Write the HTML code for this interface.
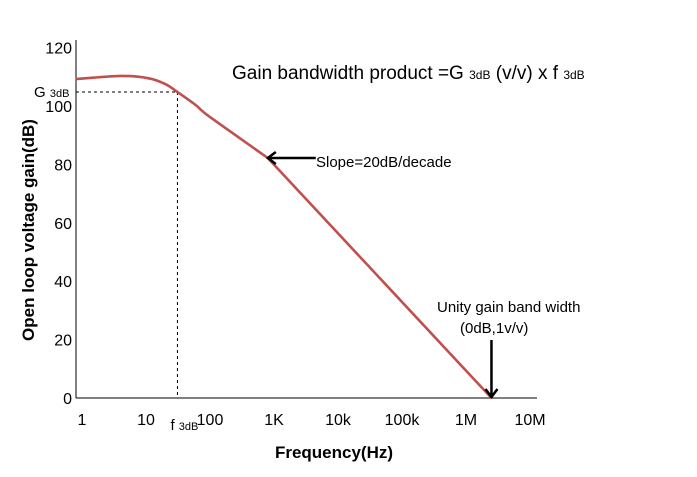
<!DOCTYPE html>
<html><head><meta charset="utf-8"><style>
html,body{margin:0;padding:0;background:#fff}
svg{display:block;font-family:"Liberation Sans",sans-serif}
</style></head><body>
<svg id="chart" width="697" height="477" viewBox="0 0 697 477">
<g id="axes"></g>
<g id="marks"></g>
<text x="232" y="79" font-size="19" fill="#000">Gain bandwidth product =G <tspan font-size="12">3dB</tspan> (v/v) x f <tspan font-size="12">3dB</tspan></text>
<text x="316" y="167" font-size="15" fill="#000">Slope=20dB/decade</text>
<text x="437" y="312" font-size="15" fill="#000">Unity gain band width</text>
<text x="460" y="333" font-size="15" fill="#000">(0dB,1v/v)</text>
<text transform="translate(34,230) rotate(-90)" text-anchor="middle" font-size="17" font-weight="bold" fill="#000">Open loop voltage gain(dB)</text>
<text x="334" y="458" text-anchor="middle" font-size="17" font-weight="bold" fill="#000">Frequency(Hz)</text>
</svg>
<script>
const yTicks = [0, 20, 40, 60, 80, 100, 120];
const xTickValues = [1, 10, 100, 1000, 1e4, 1e5, 1e6, 1e7];
const xTickLabels = ["1", "10", "100", "1K", "10k", "100k", "1M", "10M"];
const freqs = [0.8, 4, 11, 20, 31, 60, 100, 800, 2.5e6];
const gains = [109.2, 110.3, 109.5, 107.5, 104.8, 100.3, 96.2, 82.2, 0];
const f3dB = 31;
const g3dB = 104.8;
const unityFreq = 2.5e6;
const slopeFreq = 800;
const slopeGain = 82.2;

const NS = "http://www.w3.org/2000/svg";
const X0 = 76, Y0 = 398;
function xs(f){ return 82 + 64 * Math.log10(f); }
function ys(v){ return Y0 - v * 2.92; }
function mk(tag, attrs, parent){
  const e = document.createElementNS(NS, tag);
  for (const k in attrs) e.setAttribute(k, attrs[k]);
  parent.appendChild(e); return e;
}
const axes = document.getElementById('axes');
const marks = document.getElementById('marks');
const ya = mk('line', {x1:X0, y1:40, x2:X0, y2:Y0, stroke:'#000', 'stroke-width':1}, axes);


const xa = mk('line', {x1:X0, y1:Y0, x2:537, y2:Y0, stroke:'#000', 'stroke-width':1}, axes);


yTicks.forEach(v => {
  const t = mk('text', {x:72, y:ys(v)+6, 'text-anchor':'end', 'font-size':16, fill:'#000'}, axes);
  t.textContent = String(v);
  
  
});
xTickValues.forEach((f, i) => {
  const t = mk('text', {x:xs(f), y:425, 'text-anchor':'middle', 'font-size':16, fill:'#000'}, axes);
  t.textContent = xTickLabels[i];
  
  
});
const gh = mk('line', {x1:X0, y1:ys(g3dB), x2:xs(f3dB), y2:ys(g3dB), stroke:'#000', 'stroke-width':1, 'stroke-dasharray':'3,3'}, marks);


const gv = mk('line', {x1:xs(f3dB), y1:ys(g3dB), x2:xs(f3dB), y2:Y0, stroke:'#000', 'stroke-width':1, 'stroke-dasharray':'3,3'}, marks);


const gl = mk('text', {x:34, y:ys(g3dB)+5, 'font-size':15, fill:'#000'}, marks);
gl.innerHTML = 'G <tspan font-size="11">3dB</tspan>';


const fl = mk('text', {x:xs(f3dB)-7, y:430, 'font-size':15, fill:'#000'}, marks);
fl.innerHTML = 'f <tspan font-size="11">3dB</tspan>';


// smooth curve in the knee region, straight roll-off afterwards
const P = freqs.map((f, i) => [xs(f), ys(gains[i])]);
const smoothEnd = freqs.indexOf(100);
let d = `M${P[0][0]},${P[0][1]}`;
for (let i = 0; i < P.length - 1; i++) {
  const p1 = P[i], p2 = P[i+1];
  if (i >= smoothEnd) { d += ` L${p2[0].toFixed(1)},${p2[1].toFixed(1)}`; continue; }
  const p0 = P[Math.max(0, i-1)], p3 = P[Math.min(P.length-1, i+2)];
  const c1 = [p1[0] + (p2[0]-p0[0])/6, p1[1] + (p2[1]-p0[1])/6];
  const c2 = [p2[0] - (p3[0]-p1[0])/6, p2[1] - (p3[1]-p1[1])/6];
  d += ` C${c1[0].toFixed(1)},${c1[1].toFixed(1)} ${c2[0].toFixed(1)},${c2[1].toFixed(1)} ${p2[0].toFixed(1)},${p2[1].toFixed(1)}`;
}
const curve = mk('path', {d:d, fill:'none', stroke:'#c0504d', 'stroke-width':2.6, 'stroke-linejoin':'round'}, marks);


const sx = xs(slopeFreq), sy = ys(slopeGain);
const a1 = mk('path', {d:`M${sx+48},${sy} L${sx},${sy} M${sx+8},${sy-6} L${sx},${sy} L${sx+8},${sy+6}`, fill:'none', stroke:'#000', 'stroke-width':2.5}, marks);


const ux = xs(unityFreq);
const a2 = mk('path', {d:`M${ux},340 L${ux},${Y0-1} M${ux-6},${Y0-9} L${ux},${Y0-1} L${ux+6},${Y0-9}`, fill:'none', stroke:'#000', 'stroke-width':2.5}, marks);


</script>
</body></html>
